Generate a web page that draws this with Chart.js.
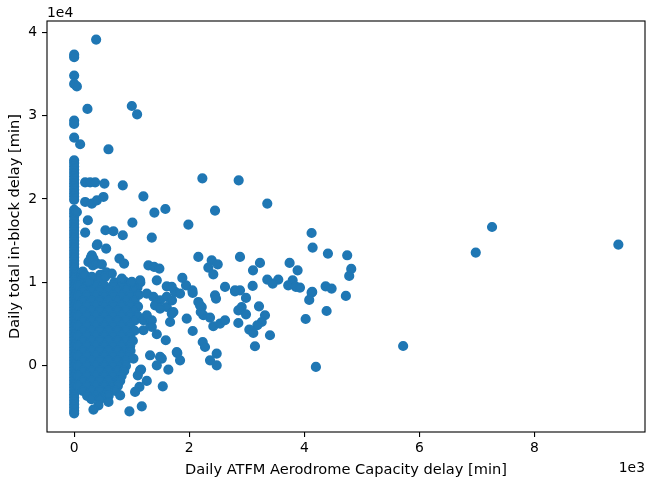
<!DOCTYPE html>
<html>
<head>
<meta charset="utf-8">
<script src="https://cdn.jsdelivr.net/npm/chart.js@4.4.0/dist/chart.umd.min.js"></script>
<style>
  html, body { margin: 0; padding: 0; background: #fff; }
  #wrap { width: 646px; height: 481px; }
</style>
</head>
<body>
<div id="wrap"><canvas id="scatter" width="646" height="481"></canvas></div>
<script>
// tick positions (minutes)
const xTicks = [0, 2000, 4000, 6000, 8000];
const yTicks = [0, 10000, 20000, 30000, 40000];

// days with zero ATFM capacity delay (x = 0), in-block delay values
const zeroCapacityY = [
    37300, 37000, 34800, 33800, 29400, 29000, 27360, 24640, 24300, 23900, 23500, 23100,
    22700, 22300, 21900, 21500, 21100, 20700, 20300, 19900,
    18700, 18300, 17900, 17400, 17000, 16600, 16200, 15800, 15400, 15000, 14600, 14200,
    13800, 13400, 13000, 12600, 12200, 11800, 11400, 11000, 10600, 10200, 9800, 9400,
    9000, 8600, 8200, 7800, 7400, 7000, 6600, 6200, 5800, 5400, 5000, 4600, 4200, 3800,
    3400, 3000, 2600, 2200, 1800, 1400, 1000, 600, 200, -200, -600, -1000, -1400, -1800,
    -2200, -2600, -3000, -3400, -3800, -4200, -4600, -5000, -5400, -5700
];

// dense cluster of small capacity delays [x, y]
const clusterPoints = [
    [150, 11300], [450, 10900], [120, 10500], [560, 11200],
    [150, 10200], [300, 10100], [420, 10300], [700, 10000], [880, 10100], [1150, 10000],
    [75, 9600], [225, 9600], [375, 9600], [525, 9600], [675, 9600], [825, 9500], [975, 9700], [1100, 9400],
    [150, 9000], [300, 9000], [450, 9000], [600, 9000], [750, 9000], [900, 9000], [1050, 9000],
    [75, 8400], [225, 8400], [375, 8400], [525, 8400], [675, 8400], [825, 8400], [975, 8400], [1120, 8500],
    [150, 7800], [300, 7800], [450, 7800], [600, 7800], [750, 7800], [900, 7800], [1050, 7800],
    [75, 7200], [225, 7200], [375, 7200], [525, 7200], [675, 7200], [825, 7200], [975, 7200], [1110, 7100],
    [150, 6600], [300, 6600], [450, 6600], [600, 6600], [750, 6600], [900, 6600], [1050, 6600],
    [75, 6000], [225, 6000], [375, 6000], [525, 6000], [675, 6000], [825, 6000], [975, 6000], [1100, 6000],
    [150, 5400], [300, 5400], [450, 5400], [600, 5400], [750, 5400], [900, 5400], [1050, 5400],
    [75, 4800], [225, 4800], [375, 4800], [525, 4800], [675, 4800], [825, 4800], [975, 4800],
    [150, 4200], [300, 4200], [450, 4200], [600, 4200], [750, 4200], [900, 4200], [1050, 4200],
    [75, 3600], [225, 3600], [375, 3600], [525, 3600], [675, 3600], [825, 3600], [975, 3600],
    [150, 3000], [300, 3000], [450, 3000], [600, 3000], [750, 3000], [900, 3000], [1020, 3000],
    [75, 2400], [225, 2400], [375, 2400], [525, 2400], [675, 2400], [825, 2400], [975, 2400],
    [150, 1800], [300, 1800], [450, 1800], [600, 1800], [750, 1800], [900, 1800], [980, 1800],
    [75, 1200], [225, 1200], [375, 1200], [525, 1200], [675, 1200], [825, 1200], [950, 1200],
    [150, 600], [300, 600], [450, 600], [600, 600], [750, 600], [900, 600],
    [75, 0], [225, 0], [375, 0], [525, 0], [675, 0], [825, 0], [900, 0],
    [150, -600], [300, -600], [450, -600], [600, -600], [750, -600], [870, -600],
    [75, -1200], [225, -1200], [375, -1200], [525, -1200], [675, -1200], [825, -1200],
    [150, -1800], [300, -1800], [450, -1800], [600, -1800], [750, -1800], [800, -1800],
    [75, -2400], [225, -2400], [375, -2400], [525, -2400], [675, -2400], [760, -2400],
    [150, -3000], [300, -3000], [450, -3000], [600, -3000], [720, -3000],
    [225, -3600], [375, -3600], [525, -3600], [600, -3600],
    [300, -4000], [450, -4000]
];

// scattered days around the cluster [x, y]
const spreadPoints = [
    [382, 39110], [47, 33500], [231, 30800], [1002, 31150], [1094, 30150], [104, 26560], [596, 25960],
    [191, 22000], [278, 22000], [365, 22000], [526, 21850], [845, 21640],
    [191, 19640], [307, 19440], [394, 19840], [509, 20240], [1203, 20320],
    [47, 18440], [238, 17450], [1394, 18370], [1585, 18800], [1012, 17170], [1985, 16930],
    [191, 15970], [543, 16250], [682, 16130], [845, 15650], [1349, 15370],
    [394, 14450], [556, 14050], [405, 14570],
    [290, 12970], [248, 12450], [325, 12050], [307, 13250], [335, 12850], [394, 12250], [481, 12170],
    [787, 12850], [868, 12250], [1290, 12050], [1389, 11850], [1481, 11650],
    [191, 10850], [307, 10650], [248, 10050], [538, 10650], [654, 11050],
    [828, 10450], [1002, 10050], [1146, 10250], [1436, 10250], [1880, 10530], [1609, 9530],
    [1262, 8660], [1377, 8250], [1493, 7850], [1436, 7460], [1609, 7050], [1724, 6450],
    [1667, 5250], [1203, 5460], [1319, 5060], [1609, 8250], [1753, 8850], [1406, 7250], [1493, 6860],
    [1262, 6060], [1349, 5460], [1203, 4260], [1349, 4650], [1436, 3780], [1592, 3060], [1696, 6260],
    [1319, 1260], [1493, 1060], [1523, 860], [1436, 60], [1637, -460], [1793, 1530],
    [1030, 860], [1146, -540], [1163, -460], [1106, -1140], [1262, -1820], [1134, -2540], [1059, -3140],
    [1540, -2460], [799, -3540], [596, -4340], [422, -4740], [335, -5250], [960, -5460], [1175, -4860]
];

// days with larger capacity delays [x, y]
const farPoints = [
    [2158, 13050], [2390, 12650], [2332, 11770], [2418, 10970], [2495, 12170],
    [2228, 22480], [2859, 22240], [2448, 18610], [3356, 19450],
    [4126, 15920], [4144, 14170], [4410, 13450], [4745, 13250], [4815, 11610], [4780, 10770],
    [2882, 13050], [3229, 12330], [3108, 11450], [3744, 12330], [3883, 11450],
    [1944, 9650], [3356, 10340], [3547, 10340], [3450, 9860],
    [3797, 10250], [3720, 9650], [3854, 9450], [4370, 9530], [4474, 9260],
    [2622, 9450], [2795, 9050], [2882, 9050], [3102, 9570], [2054, 9050], [4137, 8850],
    [1696, 9450], [1700, 7850], [1840, 8660], [2060, 8730], [2448, 8450], [2465, 8060],
    [2795, 8930], [2986, 8130], [3924, 9380], [4126, 8780], [4085, 7900], [4722, 8370],
    [4387, 6570], [4023, 5610],
    [2158, 7650], [2217, 7050], [2245, 6060], [2361, 5780], [2200, 6450], [2187, 7250],
    [1956, 5660], [2060, 4170], [2418, 4740], [2535, 5060], [2622, 5460],
    [2853, 6650], [2911, 7050], [2986, 6170], [2853, 5130],
    [3212, 7130], [3316, 6060], [3259, 5250], [3183, 4860],
    [3044, 4340], [3113, 3930], [3403, 3660], [3142, 2340],
    [2234, 2850], [2274, 2250], [1783, 1650], [1840, 660],
    [2361, 660], [2477, 1460], [2477, 60], [4201, -140],
    [5717, 2370], [6979, 13570], [7262, 16640], [9457, 14530]
];

const allPoints = zeroCapacityY.map(y => ({ x: 0, y: y }))
    .concat(clusterPoints.map(p => ({ x: p[0], y: p[1] })))
    .concat(spreadPoints.map(p => ({ x: p[0], y: p[1] })))
    .concat(farPoints.map(p => ({ x: p[0], y: p[1] })));

const FONT = '"DejaVu Sans", sans-serif';
const tickFont = { family: FONT, size: 13.9 };

// khung 4 cạnh + chữ trục kiểu matplotlib
const framePlugin = {
    id: 'frame',
    afterDraw(chart) {
        const ctx = chart.ctx;
        const a = chart.chartArea;
        ctx.save();
        ctx.strokeStyle = '#000';
        ctx.lineWidth = 1.1;
        ctx.strokeRect(a.left, a.top, a.right - a.left, a.bottom - a.top);

        ctx.fillStyle = '#000';
        ctx.font = '13.9px ' + FONT;
        ctx.textBaseline = 'alphabetic';
        ctx.textAlign = 'left';
        ctx.fillText('1e4', a.left, 17);
        ctx.textAlign = 'right';
        ctx.fillText('1e3', a.right, 472);
        ctx.font = '14.6px ' + FONT;
        ctx.textAlign = 'center';
        ctx.fillText('Daily ATFM Aerodrome Capacity delay [min]', (a.left + a.right) / 2, 473.5);

        ctx.translate(18.5, (a.top + a.bottom) / 2);
        ctx.rotate(-Math.PI / 2);
        ctx.fillText('Daily total in-block delay [min]', 0, 0);
        ctx.restore();
    }
};

new Chart(document.getElementById('scatter'), {
    type: 'scatter',
    data: {
        datasets: [{
            data: allPoints,
            backgroundColor: '#1f77b4',
            borderColor: '#1f77b4',
            borderWidth: 1.6,
            pointRadius: 4.3,
            pointHoverRadius: 4.3
        }]
    },
    options: {
        responsive: false,
        animation: false,
        layout: { autoPadding: false, padding: { top: 21, right: 1, left: 0, bottom: 0 } },
        plugins: { legend: { display: false }, tooltip: { enabled: false } },
        scales: {
            x: {
                type: 'linear',
                min: -472,
                max: 9920,
                afterFit: s => { s.height = 49; s.paddingLeft = 0; s.paddingRight = 0; },
                afterBuildTicks: s => { s.ticks = xTicks.map(v => ({ value: v })); },
                grid: { drawOnChartArea: false, drawTicks: true, tickLength: 5, color: '#000', lineWidth: 1.1 },
                border: { display: false },
                ticks: { color: '#000', font: tickFont, padding: 3, maxRotation: 0, callback: v => String(v / 1000) }
            },
            y: {
                type: 'linear',
                min: -7940,
                max: 41340,
                afterFit: s => { s.width = 47; s.paddingTop = 0; s.paddingBottom = 0; },
                afterBuildTicks: s => { s.ticks = yTicks.map(v => ({ value: v })); },
                grid: { drawOnChartArea: false, drawTicks: true, tickLength: 5, color: '#000', lineWidth: 1.1 },
                border: { display: false },
                ticks: { color: '#000', font: tickFont, padding: 5, callback: v => String(v / 10000) }
            }
        }
    },
    plugins: [framePlugin]
});
</script>
</body>
</html>
